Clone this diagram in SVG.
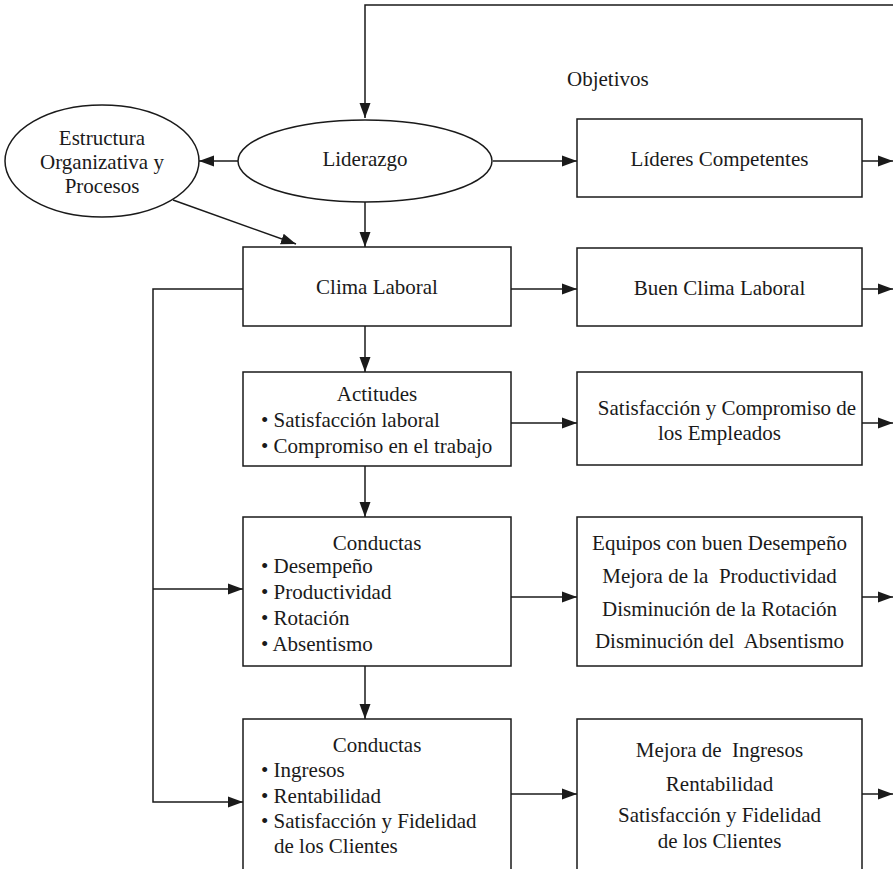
<svg xmlns="http://www.w3.org/2000/svg" width="893" height="869" viewBox="0 0 893 869" font-family="'Liberation Serif', 'Times New Roman', serif" font-size="21">
<style>
.n{fill:#fff;stroke:#1a1a1a;stroke-width:1.5}
.c{fill:none;stroke:#1a1a1a;stroke-width:1.5}
text{fill:#1a1a1a}
.m{text-anchor:middle}
</style>
<defs>
<marker id="a" markerUnits="userSpaceOnUse" markerWidth="16" markerHeight="12" viewBox="0 0 16 11" refX="15" refY="5.5" orient="auto">
<path d="M0,0 L15,5.5 L0,11 z" fill="#1a1a1a"/>
</marker>
</defs>
<rect width="893" height="869" fill="#fff"/>
<g id="connectors">
<polyline class="c" points="893,5 365,5 365,118" marker-end="url(#a)"/>
<line class="c" x1="238" y1="161" x2="199" y2="161" marker-end="url(#a)"/>
<line class="c" x1="493" y1="161" x2="577" y2="161" marker-end="url(#a)"/>
<line class="c" x1="862" y1="161" x2="893" y2="161" marker-end="url(#a)"/>
<line class="c" x1="173" y1="200" x2="296" y2="244" marker-end="url(#a)"/>
<line class="c" x1="365" y1="202" x2="365" y2="247" marker-end="url(#a)"/>
<line class="c" x1="511" y1="289" x2="577" y2="289" marker-end="url(#a)"/>
<line class="c" x1="862" y1="289" x2="893" y2="289" marker-end="url(#a)"/>
<line class="c" x1="365" y1="326" x2="365" y2="372" marker-end="url(#a)"/>
<line class="c" x1="511" y1="423" x2="577" y2="423" marker-end="url(#a)"/>
<line class="c" x1="862" y1="423" x2="893" y2="423" marker-end="url(#a)"/>
<line class="c" x1="365" y1="466" x2="365" y2="517" marker-end="url(#a)"/>
<line class="c" x1="511" y1="597" x2="577" y2="597" marker-end="url(#a)"/>
<line class="c" x1="862" y1="597" x2="893" y2="597" marker-end="url(#a)"/>
<line class="c" x1="365" y1="666" x2="365" y2="719" marker-end="url(#a)"/>
<line class="c" x1="511" y1="794" x2="577" y2="794" marker-end="url(#a)"/>
<line class="c" x1="862" y1="794" x2="893" y2="794" marker-end="url(#a)"/>
<polyline class="c" points="243,289 153,289 153,802 243,802" marker-end="url(#a)"/>
<line class="c" x1="153" y1="589" x2="243" y2="589" marker-end="url(#a)"/>
</g>
<text id="objetivos" x="567" y="86">Objetivos</text>
<g id="estructura">
<ellipse class="n" cx="102" cy="161" rx="97" ry="56"/>
<text class="m" x="102" y="145">Estructura</text>
<text class="m" x="102" y="169">Organizativa y</text>
<text class="m" x="102" y="193">Procesos</text>
</g>
<g id="liderazgo">
<ellipse class="n" cx="365" cy="161" rx="127" ry="41"/>
<text class="m" x="365" y="166">Liderazgo</text>
</g>
<g id="lideres">
<rect class="n" x="577" y="119" width="285" height="78"/>
<text class="m" x="719.5" y="166">Líderes Competentes</text>
</g>
<g id="clima">
<rect class="n" x="243" y="247" width="268" height="79"/>
<text class="m" x="377" y="294">Clima Laboral</text>
</g>
<g id="buenclima">
<rect class="n" x="577" y="248" width="285" height="78"/>
<text class="m" x="719.5" y="295">Buen Clima Laboral</text>
</g>
<g id="actitudes">
<rect class="n" x="243" y="372" width="268" height="94"/>
<text class="m" x="377" y="401">Actitudes</text>
<text x="261" y="427">• Satisfacción laboral</text>
<text x="261" y="453">• Compromiso en el trabajo</text>
</g>
<g id="satisfaccion">
<rect class="n" x="577" y="372" width="285" height="93"/>
<text class="m" x="727" y="415">Satisfacción y Compromiso de</text>
<text class="m" x="719.5" y="440">los Empleados</text>
</g>
<g id="conductas1">
<rect class="n" x="243" y="517" width="268" height="149"/>
<text class="m" x="377" y="550">Conductas</text>
<text x="261" y="573">• Desempeño</text>
<text x="261" y="599">• Productividad</text>
<text x="261" y="625">• Rotación</text>
<text x="261" y="651">• Absentismo</text>
</g>
<g id="equipos">
<rect class="n" x="577" y="517" width="285" height="149"/>
<text class="m" x="719.5" y="550">Equipos con buen Desempeño</text>
<text class="m" x="719.5" y="583" xml:space="preserve">Mejora de la  Productividad</text>
<text class="m" x="719.5" y="616">Disminución de la Rotación</text>
<text class="m" x="719.5" y="648" xml:space="preserve">Disminución del  Absentismo</text>
</g>
<g id="conductas2">
<rect class="n" x="243" y="719" width="268" height="170"/>
<text class="m" x="377" y="752">Conductas</text>
<text x="261" y="777">• Ingresos</text>
<text x="261" y="803">• Rentabilidad</text>
<text x="261" y="828">• Satisfacción y Fidelidad</text>
<text x="274" y="853">de los Clientes</text>
</g>
<g id="mejora">
<rect class="n" x="577" y="719" width="285" height="170"/>
<text class="m" x="719.5" y="757" xml:space="preserve">Mejora de  Ingresos</text>
<text class="m" x="719.5" y="791">Rentabilidad</text>
<text class="m" x="719.5" y="822">Satisfacción y Fidelidad</text>
<text class="m" x="719.5" y="848">de los Clientes</text>
</g>
</svg>
